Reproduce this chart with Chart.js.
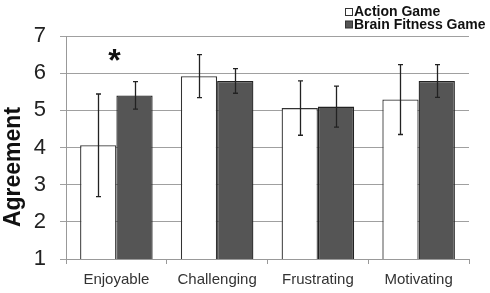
<!DOCTYPE html>
<html><head><meta charset="utf-8">
<script src="https://cdn.jsdelivr.net/npm/chart.js@4/dist/chart.umd.min.js"></script>
<style>html,body{margin:0;padding:0;background:#fff}#wrap{width:490px;height:293px;position:relative}</style>
</head><body><div id="wrap"><canvas id="c" width="490" height="293"></canvas></div>
<script>
const categories = ["Enjoyable", "Challenging", "Frustrating", "Motivating"];
const seriesNames = ["Action Game", "Brain Fitness Game"];
const actionMeans = [4.06, 5.92, 5.06, 5.29];
const actionErr = [1.38, 0.58, 0.73, 0.94];
const brainMeans = [5.40, 5.79, 5.10, 5.79];
const brainErr = [0.37, 0.33, 0.55, 0.44];
const yTicks = [1, 2, 3, 4, 5, 6, 7];
const yTitle = "Agreement";
const significance = [{category: 0, value: 6.45, text: "*"}];

const FONT = '"Liberation Sans", Arial, sans-serif';

const extras = {
  id: 'extras',
  afterDatasetsDraw(chart) {
    const ctx = chart.ctx;
    const y = chart.scales.y;
    const errs = [actionErr, brainErr];
    const means = [actionMeans, brainMeans];
    ctx.save();
    ctx.strokeStyle = '#222';
    ctx.lineWidth = 1.3;
    chart.data.datasets.forEach((ds, di) => {
      const meta = chart.getDatasetMeta(di);
      meta.data.forEach((bar, i) => {
        const x = Math.round(bar.x) + 0.5;
        const top = y.getPixelForValue(means[di][i] + errs[di][i]);
        const bot = y.getPixelForValue(means[di][i] - errs[di][i]);
        ctx.beginPath();
        ctx.moveTo(x, top); ctx.lineTo(x, bot);
        ctx.moveTo(x - 2.5, top); ctx.lineTo(x + 2.5, top);
        ctx.moveTo(x - 2.5, bot); ctx.lineTo(x + 2.5, bot);
        ctx.stroke();
      });
    });
    // significance markers
    ctx.fillStyle = '#111';
    ctx.font = 'bold 32px ' + FONT;
    ctx.textAlign = 'center';
    ctx.textBaseline = 'middle';
    significance.forEach(s => {
      const x = chart.scales.x.getPixelForValue(s.category);
      ctx.fillText(s.text, x - 2, y.getPixelForValue(s.value) + 6);
    });
    // legend
    ctx.font = 'bold 14px ' + FONT;
    ctx.textAlign = 'left';
    ctx.textBaseline = 'middle';
    const fills = ['#ffffff', '#555555'];
    seriesNames.forEach((n, i) => {
      const ly = 12 + i * 12.5;
      ctx.fillStyle = fills[i];
      ctx.fillRect(345.5, ly - 3.5, 7, 7);
      ctx.strokeStyle = '#333';
      ctx.lineWidth = 1;
      ctx.strokeRect(345.5, ly - 3.5, 7, 7);
      ctx.fillStyle = '#111';
      ctx.fillText(n, 354, ly + 0.5);
    });
    // y-axis title
    ctx.translate(14, 167);
    ctx.rotate(-Math.PI / 2);
    ctx.font = 'bold 23px ' + FONT;
    ctx.textAlign = 'center';
    ctx.textBaseline = 'middle';
    ctx.fillStyle = '#111';
    ctx.fillText(yTitle, 0, 0);
    ctx.restore();
  }
};

new Chart(document.getElementById('c'), {
  type: 'bar',
  data: {
    labels: categories,
    datasets: [
      {label: seriesNames[0], data: actionMeans, backgroundColor: '#ffffff', borderColor: '#333333', borderWidth: 1.3, barPercentage: 1.0, categoryPercentage: 0.72},
      {label: seriesNames[1], data: brainMeans, backgroundColor: '#555555', borderColor: '#222222', borderWidth: 1.3, barPercentage: 1.0, categoryPercentage: 0.72}
    ]
  },
  plugins: [extras],
  options: {
    responsive: false,
    animation: false,
    devicePixelRatio: 1,
    layout: {padding: {left: 0, right: 21, top: 36, bottom: 0}},
    plugins: {legend: {display: false}, tooltip: {enabled: false}},
    scales: {
      x: {
        grid: {offset: true, drawOnChartArea: false, color: '#999', tickLength: 5},
        border: {color: '#999'},
        ticks: {color: '#333', font: {size: 15, family: FONT}, padding: 7},
        afterFit(s) { s.height = 34; }
      },
      y: {
        min: 1, max: 7,
        afterBuildTicks(s) { s.ticks = yTicks.map(v => ({value: v})); },
        grid: {color: '#a0a0a0', tickLength: 6},
        border: {color: '#999'},
        ticks: {color: '#222', font: {size: 22, family: FONT}, padding: 14},
        afterFit(s) { s.width = 66; }
      }
    }
  }
});
</script></body></html>
